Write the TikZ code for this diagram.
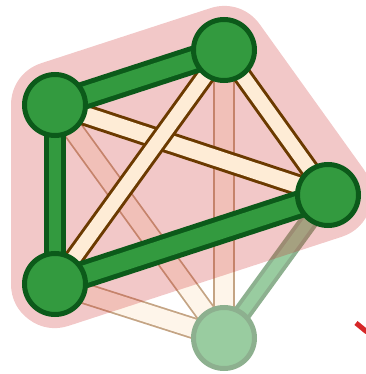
\documentclass[tikz,border=0pt]{standalone}
\definecolor{nodegreen}{RGB}{51,154,63}
\definecolor{darkgreen}{RGB}{12,90,26}
\definecolor{creamfill}{RGB}{254,236,214}
\definecolor{brownline}{RGB}{107,58,0}
\definecolor{hullred}{RGB}{203,35,35}
\definecolor{fadecream}{RGB}{254,245,234}
\definecolor{fadebrown}{RGB}{196,164,132}
\definecolor{fadegreen}{RGB}{153,204,160}
\definecolor{fadeborder}{RGB}{141,176,143}
\definecolor{markred}{RGB}{214,39,40}
\tikzset{
  greenedge/.style={draw=darkgreen, line width=5pt, double=nodegreen, double distance=#1},
  greenedge/.default=18pt,
  creamedge/.style={draw=brownline, line width=3pt, double=creamfill, double distance=#1},
  creamedge/.default=14pt,
  fadeedge/.style={draw=fadebrown, line width=1.8pt, double=fadecream, double distance=18pt},
  fadegreenedge/.style={draw=fadeborder, line width=4pt, double=fadegreen, double distance=11pt},
  mainnode/.style={circle, draw=darkgreen, fill=nodegreen, line width=5pt, minimum size=61pt, inner sep=0pt},
  fadenode/.style={circle, draw=fadeborder, fill=fadegreen, line width=5pt, minimum size=61pt, inner sep=0pt},
}
\begin{document}
\begin{tikzpicture}[x=1pt,y=-1pt]
\useasboundingbox (0,0) rectangle (365,374);
\coordinate (a) at (55,105);
\coordinate (b) at (224,50);
\coordinate (c) at (328,195);
\coordinate (d) at (55,284);
\coordinate (e) at (224,338);
% faded edges
\draw[fadeedge] (a) -- (e);
\draw[fadeedge] (b) -- (e);
\draw[fadeedge] (d) -- (e);
\draw[fadegreenedge] (c) -- (e);
\node[fadenode] (ne) at (e) {};
% hull
\begin{scope}[transparency group, opacity=0.25]
\draw[fill=hullred, draw=hullred, line width=88pt, line join=round] (a) -- (b) -- (c) -- (d) -- cycle;
\end{scope}
% main edges
\draw[creamedge=16pt] (a) -- (c);
\draw[creamedge=14pt] (b) -- (d);
\draw[creamedge=14pt] (b) -- (c);
\draw[greenedge=18pt] (a) -- (b);
\draw[greenedge=12pt] (a) -- (d);
\draw[greenedge=18pt] (d) -- (c);
% nodes
\node[mainnode] (na) at (a) {};
\node[mainnode] (nb) at (b) {};
\node[mainnode] (nc) at (c) {};
\node[mainnode] (nd) at (d) {};
% red mark
\coordinate (r1) at (356,323);
\coordinate (r2) at (367,332);
\draw[markred, line width=5pt] (r1) -- (r2);
\end{tikzpicture}
\end{document}
